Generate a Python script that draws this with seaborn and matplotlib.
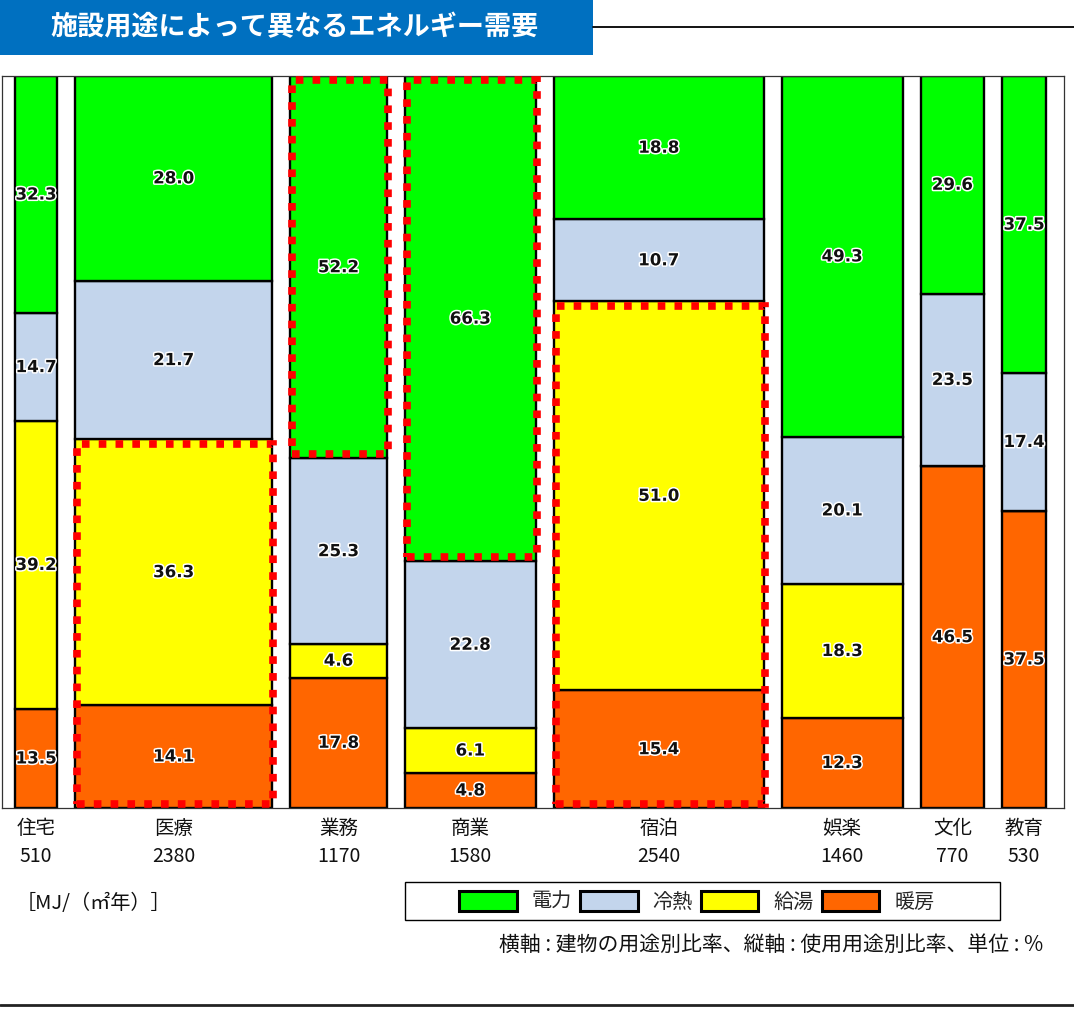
import matplotlib
matplotlib.use("Agg")
import matplotlib.pyplot as plt
import matplotlib.patheffects as pe
from matplotlib.patches import Rectangle
import seaborn as sns

# Building types (column widths = energy demand per floor area, MJ/(m2 year))
categories = ["住宅", "医療", "業務", "商業", "宿泊", "娯楽", "文化", "教育"]
demand = [510, 2380, 1170, 1580, 2540, 1460, 770, 530]

# Share of each end use within a building type (%), bottom to top
heating = [13.5, 14.1, 17.8, 4.8, 15.4, 12.3, 46.5, 37.5]      # 暖房
hot_water = [39.2, 36.3, 4.6, 6.1, 51.0, 18.3, 0.0, 0.0]       # 給湯
cooling = [14.7, 21.7, 25.3, 22.8, 10.7, 20.1, 23.5, 17.4]     # 冷熱
power = [32.3, 28.0, 52.2, 66.3, 18.8, 49.3, 29.6, 37.5]       # 電力

series_names = ["暖房", "給湯", "冷熱", "電力"]
series_values = [heating, hot_water, cooling, power]
series_colors = ["#FF6600", "#FFFF00", "#C3D5EC", "#00FF00"]

# Highlighted blocks: (building index, first end-use index, last end-use index)
highlights = [(1, 0, 1), (2, 3, 3), (3, 3, 3), (4, 0, 1)]

sns.set_theme(style="white")
plt.rcParams["font.family"] = ["Noto Sans CJK JP", "DejaVu Sans"]

W, H = 1074, 1009
fig = plt.figure(figsize=(W / 100, H / 100), dpi=100)
ax = fig.add_axes([2 / W, (H - 808) / H, 1062 / W, 732 / H])

gap = 216
lefts = []
pos = 0
for d in demand:
    lefts.append(pos)
    pos += d + gap
ax.set_xlim(-157, pos - gap + 217)
ax.set_ylim(0, 100)

# Normalise each column so the end uses fill the full height
totals = [sum(s[i] for s in series_values) for i in range(len(categories))]
bottoms = [0.0] * len(categories)
seg_bounds = [[None] * 4 for _ in categories]
halo = [pe.withStroke(linewidth=2.2, foreground="white")]
for k, (vals, col) in enumerate(zip(series_values, series_colors)):
    heights = [v / t * 100 for v, t in zip(vals, totals)]
    ax.bar(lefts, heights, width=demand, bottom=bottoms, align="edge",
           color=col, edgecolor="black", linewidth=1.7, label=series_names[k],
           zorder=2)
    for i, (h, v) in enumerate(zip(heights, vals)):
        seg_bounds[i][k] = (bottoms[i], bottoms[i] + h)
        if v > 0:
            ax.text(lefts[i] + demand[i] / 2, bottoms[i] + h / 2, f"{v:.1f}",
                    ha="center", va="center", fontsize=12, fontweight="bold",
                    family="DejaVu Sans", color="#111111", path_effects=halo,
                    zorder=4)
    bottoms = [b + h for b, h in zip(bottoms, heights)]

# Red dotted outlines around the dominant end uses
for i, k0, k1 in highlights:
    y0 = seg_bounds[i][k0][0]
    y1 = seg_bounds[i][k1][1]
    inset = 0.6
    rect = Rectangle((lefts[i] + 25, y0 + inset), demand[i] - 10, y1 - y0 - 2 * inset,
                     fill=False, edgecolor="#FF0000", linewidth=5.5,
                     linestyle=(0, (1.0, 1.2)), zorder=5)
    ax.add_patch(rect)

ax.set_xticks([])
ax.set_yticks([])
for sp in ax.spines.values():
    sp.set_color("#333333")
    sp.set_linewidth(0.9)

# Building names and demand values under the columns
xt = ax.get_xaxis_transform()
for i, (name, d) in enumerate(zip(categories, demand)):
    cx = lefts[i] + d / 2
    ax.text(cx, -(828 - 808) / 732, name, transform=xt, ha="center", va="center",
            fontsize=14, color="#111111")
    ax.text(cx, -(856 - 808) / 732, str(d), transform=xt, ha="center", va="center",
            fontsize=14, color="#111111")

# Title banner
fig.patches.append(Rectangle((0, 1 - 55 / H), 593 / W, 55 / H, transform=fig.transFigure,
                             facecolor="#0070C0", edgecolor="none"))
fig.text(295 / W, 1 - 27 / H, "施設用途によって異なるエネルギー需要", ha="center",
         va="center", fontsize=19.5, fontweight="bold", color="white")
fig.add_artist(plt.Line2D([593 / W, 1], [1 - 27 / H, 1 - 27 / H], color="black",
                          linewidth=1.3, transform=fig.transFigure))

# Unit note
fig.text(16 / W, 1 - 903 / H, "［MJ/（㎡年）］", ha="left", va="center", fontsize=14.5,
         color="#111111")

# Legend in a boxed strip
fig.patches.append(Rectangle((405 / W, 1 - 920 / H), 595 / W, 38 / H,
                             transform=fig.transFigure, facecolor="white",
                             edgecolor="black", linewidth=1))
handles, labels = ax.get_legend_handles_labels()
order = [3, 2, 1, 0]
leg = fig.legend([handles[j] for j in order], [labels[j] for j in order],
                 loc="center", bbox_to_anchor=(697 / W, 1 - 902 / H), ncol=4,
                 frameon=False, fontsize=14.5, handlelength=2.85, handleheight=1.1,
                 handletextpad=0.75, columnspacing=0.4, borderpad=0)
for patch in leg.get_patches():
    patch.set_linewidth(2.2)

# Axis description
fig.text(1043 / W, 1 - 945 / H, "横軸 : 建物の用途別比率、縦軸 : 使用用途別比率、単位 : %",
         ha="right", va="center", fontsize=15, color="#111111")

# Bottom rule
fig.add_artist(plt.Line2D([0, 1], [1 - 1005 / H, 1 - 1005 / H], color="#222222",
                          linewidth=2, transform=fig.transFigure))

fig.savefig("out.png", dpi=100)
